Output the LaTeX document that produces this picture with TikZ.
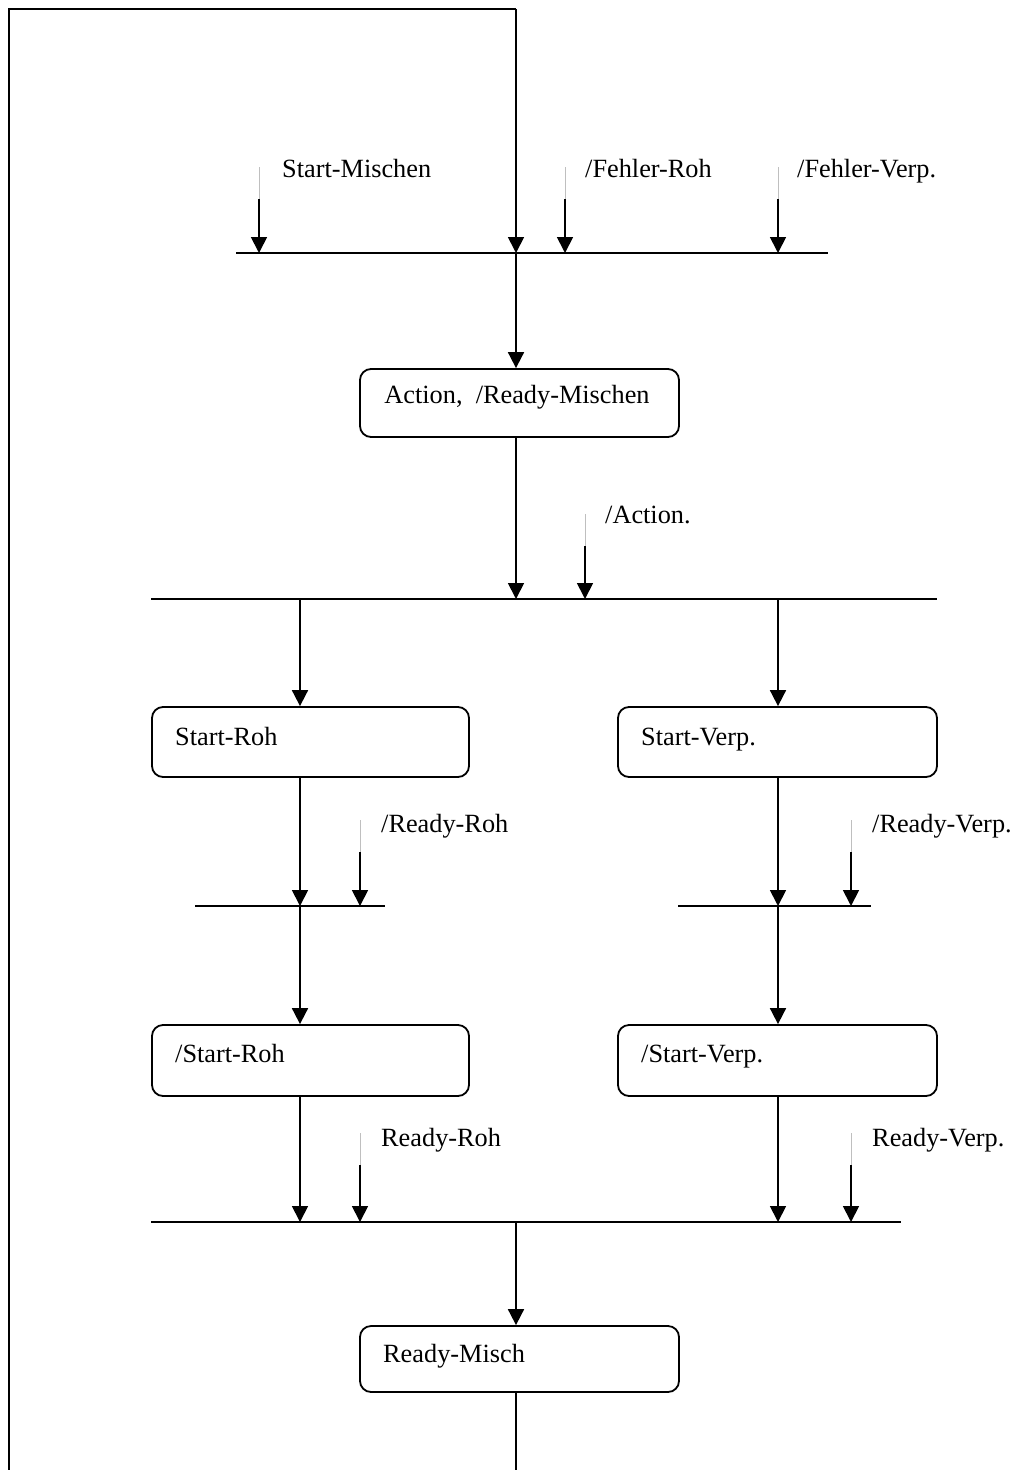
\documentclass[tikz,border=0pt]{standalone}
\usepackage{fontspec}
\setmainfont{Liberation Serif}
\usetikzlibrary{arrows.meta}
\tikzset{
  ln/.style={line width=1.8pt, black},
  arr/.style={ln, -{Triangle[length=16pt,width=16pt]}},
  faint/.style={line width=0.6pt, black!25},
  stbox/.style={draw, line width=1.8pt, rounded corners=11pt, inner sep=0pt},
  lbl/.style={inner sep=0pt, anchor=base west, font=\fontsize{26.3}{30}\selectfont},
  pt/.style={inner sep=0pt, minimum size=0pt}
}
\begin{document}
\begin{tikzpicture}[x=1pt,y=-1pt]
\useasboundingbox (0,0) rectangle (1019,1470);

% boxes
\node[stbox, minimum width=319pt, minimum height=68pt] (bA) at (519.5,403) {};
\node[stbox, minimum width=317pt, minimum height=70pt] (bSR) at (310.5,742) {};
\node[stbox, minimum width=319pt, minimum height=70pt] (bSV) at (777.5,742) {};
\node[stbox, minimum width=317pt, minimum height=71pt] (bSR2) at (310.5,1060.5) {};
\node[stbox, minimum width=319pt, minimum height=71pt] (bSV2) at (777.5,1060.5) {};
\node[stbox, minimum width=319pt, minimum height=66pt] (bRM) at (519.5,1359) {};

% box texts
\node[lbl, anchor=base] (tA) at (517,403) {Action,\ \ /Ready-Mischen};
\node[lbl] (tSR) at (175,745) {Start-Roh};
\node[lbl] (tSV) at (641,745) {Start-Verp.};
\node[lbl] (tSR2) at (175,1062) {/Start-Roh};
\node[lbl] (tSV2) at (641,1062) {/Start-Verp.};
\node[lbl] (tRM) at (383,1362) {Ready-Misch};

% input labels
\node[lbl] (l1) at (282,177) {Start-Mischen};
\node[lbl] (l2) at (585,177) {/Fehler-Roh};
\node[lbl] (l3) at (797,177) {/Fehler-Verp.};
\node[lbl] (l4) at (605,523) {/Action.};
\node[lbl] (l5) at (381,832) {/Ready-Roh};
\node[lbl] (l6) at (872,832) {/Ready-Verp.};
\node[lbl] (l7) at (381,1146) {Ready-Roh};
\node[lbl] (l8) at (872,1146) {Ready-Verp.};

% synchronisation bars
\coordinate (b1w) at (236,253); \coordinate (b1e) at (828,253);
\coordinate (b2w) at (151,599); \coordinate (b2e) at (937,599);
\coordinate (b3w) at (195,906); \coordinate (b3e) at (385,906);
\coordinate (b4w) at (678,906); \coordinate (b4e) at (871,906);
\coordinate (b5w) at (151,1222); \coordinate (b5e) at (901,1222);
\draw[ln] (b1w) -- (b1e);
\draw[ln] (b2w) -- (b2e);
\draw[ln] (b3w) -- (b3e);
\draw[ln] (b4w) -- (b4e);
\draw[ln] (b5w) -- (b5e);

% points on bars
\coordinate (p1a) at (259,253); \coordinate (p1b) at (516,253);
\coordinate (p1c) at (565,253); \coordinate (p1d) at (778,253);
\coordinate (p2a) at (516,599); \coordinate (p2b) at (585,599);
\coordinate (p2l) at (300,599); \coordinate (p2r) at (778,599);
\coordinate (p3a) at (300,906); \coordinate (p3b) at (360,906);
\coordinate (p4a) at (778,906); \coordinate (p4b) at (851,906);
\coordinate (p5a) at (300,1222); \coordinate (p5b) at (360,1222);
\coordinate (p5c) at (778,1222); \coordinate (p5d) at (851,1222);
\coordinate (p5m) at (516,1222);

% input arrow starts (faint top, solid part)
\foreach \n/\x/\y in {i1/259/167, i2/565/167, i3/778/167, i4/585/514,
                      i5/360/820, i6/851/820, i7/360/1133, i8/851/1133}{
  \coordinate (\n t) at (\x,\y);
  \coordinate (\n s) at (\x,\y+32);
  \draw[faint] (\n t) -- (\n s);
}
\draw[arr] (i1s) -- (p1a);
\draw[arr] (i2s) -- (p1c);
\draw[arr] (i3s) -- (p1d);
\draw[arr] (i4s) -- (p2b);
\draw[arr] (i5s) -- (p3b);
\draw[arr] (i6s) -- (p4b);
\draw[arr] (i7s) -- (p5b);
\draw[arr] (i8s) -- (p5d);

% loop back
\coordinate (lb) at (516,1470); \coordinate (lbl) at (9,1470);
\coordinate (ltl) at (9,9); \coordinate (ltr) at (516,9);
\draw[ln] (bRM.south -| lb) -- (lb);
\draw[ln] (ltl |- lb) -- (ltl) -- (ltr);
\draw[arr] (ltr) -- (p1b);

% main flow
\draw[arr] (p1b) -- (bA.north -| p1b);
\draw[arr] (bA.south -| p2a) -- (p2a);
\draw[arr] (p2l) -- (bSR.north -| p2l);
\draw[arr] (p2r) -- (bSV.north -| p2r);
\draw[arr] (bSR.south -| p3a) -- (p3a);
\draw[arr] (bSV.south -| p4a) -- (p4a);
\draw[arr] (p3a) -- (bSR2.north -| p3a);
\draw[arr] (p4a) -- (bSV2.north -| p4a);
\draw[arr] (bSR2.south -| p5a) -- (p5a);
\draw[arr] (bSV2.south -| p5c) -- (p5c);
\draw[arr] (p5m) -- (bRM.north -| p5m);
\end{tikzpicture}
\end{document}
